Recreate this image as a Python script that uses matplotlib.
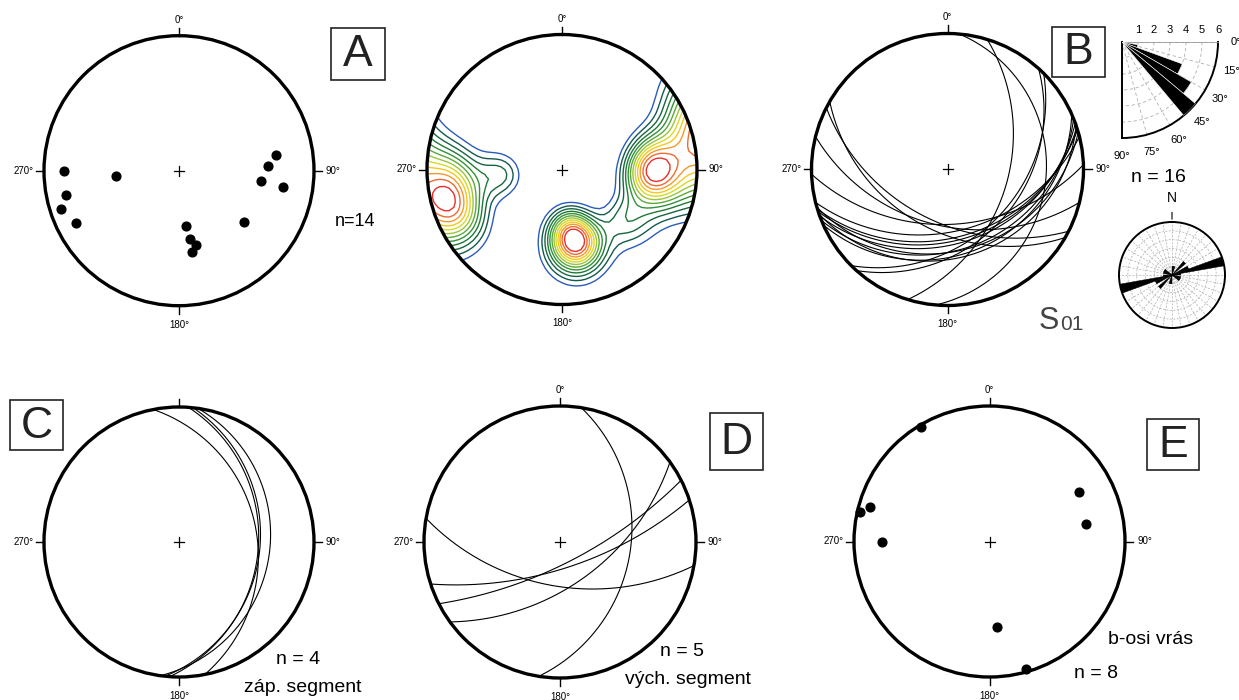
import numpy as np
import matplotlib
matplotlib.use("Agg")
import matplotlib.pyplot as plt
from matplotlib.patches import Circle, Rectangle

plt.rcParams['font.family'] = ['Liberation Sans', 'DejaVu Sans']

W, H = 1239, 700

# ---------------- data ----------------
# A: poles (trend, plunge)
A_trend = [270, 265, 258, 252, 243, 81, 87, 97, 99, 128, 173, 171, 167, 171]
A_plunge = [9, 40, 9, 5, 9, 18, 23, 27, 14, 27, 45, 36, 31, 27]

# B: S01 planes (dip direction, dip)
B_dipdir = [166, 163, 162, 160, 158, 164, 156, 161, 95, 107, 132, 135, 194, 210, 207, 178]
B_dip = [41, 37, 35, 33, 29, 28, 26, 24, 18, 42, 33, 36, 45, 42, 48, 46]

# C: western segment planes
C_dipdir = [79, 94, 96, 98]
C_dip = [30, 29, 28, 22]

# D: eastern segment planes
D_dipdir = [99, 190, 162, 153, 144]
D_dip = [35, 54, 68, 72, 55]

# E: fold axes (trend, plunge)
E_trend = [329, 283, 286, 270, 61, 80, 175, 164]
E_plunge = [1, 1, 5, 13, 16, 18, 25, 1]

contour_colors = ['#2b5cb8', '#14594f', '#166640', '#1f7a36', '#33913a', '#5aa83a',
                  '#9cc43a', '#d6da22', '#f5c81c', '#f59a2a', '#ef6a2e', '#e8302a']

fig = plt.figure(figsize=(W / 100, H / 100), dpi=100)
ov = fig.add_axes([0, 0, 1, 1])
ov.set_xlim(0, W)
ov.set_ylim(H, 0)
ov.axis('off')


def vec(trend, plunge):
    t = np.deg2rad(trend)
    p = np.deg2rad(plunge)
    return np.array([np.sin(t) * np.cos(p), np.cos(t) * np.cos(p), -np.sin(p)])


def proj(v):
    e, n, u = v
    s = np.where(u > 0, -1.0, 1.0)
    e, n, u = e * s, n * s, u * s
    return e / (1 - u), n / (1 - u)


def great_circle(dd, dip, num=241):
    st = np.deg2rad(dd - 90)
    d = np.deg2rad(dd)
    di = np.deg2rad(dip)
    t = np.linspace(0, np.pi, num)
    s_vec = np.array([np.sin(st), np.cos(st), 0.0])
    d_vec = np.array([np.sin(d) * np.cos(di), np.cos(d) * np.cos(di), -np.sin(di)])
    v = np.outer(np.cos(t), s_vec) + np.outer(np.sin(t), d_vec)
    return proj(v.T)


def make_net(cx, cy, r, top_label=True):
    pad = 1.3
    ax = fig.add_axes([(cx - r * pad) / W, 1 - (cy + r * pad) / H, 2 * r * pad / W, 2 * r * pad / H])
    ax.set_xlim(-pad, pad)
    ax.set_ylim(-pad, pad)
    ax.set_aspect('equal')
    ax.axis('off')
    prim = Circle((0, 0), 1, fill=False, ec='k', lw=2.4, zorder=10)
    ax.add_patch(prim)
    tl = 8 / r
    for a in (0, 90, 180, 270):
        ra = np.deg2rad(a)
        ax.plot([np.sin(ra), (1 + tl) * np.sin(ra)], [np.cos(ra), (1 + tl) * np.cos(ra)],
                color='k', lw=1.0)
    c = 5 / r
    ax.plot([-c, c], [0, 0], color='k', lw=0.9)
    ax.plot([0, 0], [-c, c], color='k', lw=0.9)
    fs = 7
    if top_label:
        ax.text(0, 1 + 16 / r, '0°', ha='center', va='center', fontsize=fs)
    ax.text(1 + 12 / r, 0, '90°', ha='left', va='center', fontsize=fs)
    ax.text(0, -1 - 19 / r, '180°', ha='center', va='center', fontsize=fs)
    ax.text(-1 - 10 / r, 0, '270°', ha='right', va='center', fontsize=fs)
    return ax, prim


def plot_points(ax, trends, plunges):
    for t, p in zip(trends, plunges):
        x, y = proj(vec(t, p))
        ax.plot(x, y, 'o', color='k', ms=6.3, zorder=12)


def plot_planes(ax, prim, dds, dips):
    for dd, dp in zip(dds, dips):
        x, y = great_circle(dd, dp)
        ln, = ax.plot(x, y, color='k', lw=0.8)
        ln.set_clip_path(prim)


# ---- A: poles
axA, pA = make_net(179, 170.7, 135)
plot_points(axA, A_trend, A_plunge)

# ---- contour of A (axial density on the sphere)
axK, pK = make_net(562, 169.5, 135)
g = np.linspace(-1.08, 1.08, 63)
X, Y = np.meshgrid(g, g)
R = np.hypot(X, Y)
plg = 90 - 2 * np.degrees(np.arctan(R))
trd = np.degrees(np.arctan2(X, Y))
G = vec(trd, plg)
P = np.array([vec(t, p) for t, p in zip(A_trend, A_plunge)])
dots = np.abs(np.tensordot(P, G, axes=([1], [0])))
kappa = 24.0
dens = np.exp(kappa * (dots - 1)).sum(axis=0)
inside = R < 0.97
peak_w = dens[inside & (X < -0.3)].max()
peak_e = dens[inside & (X > 0.35) & (R < 0.85)].max()
peak_s = dens[inside & (Y < -0.25) & (np.abs(X) < 0.35)].max()
top = 0.94 * min(peak_w, peak_e, peak_s)
low = 0.14 * max(peak_w, peak_e, peak_s)
levels = np.linspace(low, top, 12)
cs = axK.contour(X, Y, dens, levels=levels, colors=contour_colors, linewidths=1.0)
cs.set_clip_path(pK)

# ---- B: planes
axB, pB = make_net(947.5, 169.5, 136)
plot_planes(axB, pB, B_dipdir, B_dip)

# ---- C
axC, pC = make_net(179, 542, 135, top_label=False)
plot_planes(axC, pC, C_dipdir, C_dip)

# ---- D
axD, pD = make_net(560, 542, 136)
plot_planes(axD, pD, D_dipdir, D_dip)

# ---- E
axE, pE = make_net(989.5, 541.5, 135.5)
plot_points(axE, E_trend, E_plunge)

# ---- quarter rose of dips
rq = 96
rax = fig.add_axes([1122 / W, 1 - (42 + rq) / H, rq / W, rq / H], projection='polar')
rax.set_theta_zero_location('E')
rax.set_theta_direction(-1)
rax.set_thetamin(0)
rax.set_thetamax(90)
dip_bins = np.arange(0, 91, 10)
dip_counts, _ = np.histogram(B_dip, dip_bins)
rmax_q = 6
rax.set_axisbelow(True)
rax.bar(np.deg2rad(dip_bins[:-1]), dip_counts, width=np.deg2rad(10), align='edge',
        color='k', edgecolor='white', linewidth=0.4, zorder=3)
rax.set_ylim(0, rmax_q)
rax.set_rgrids(np.arange(1, rmax_q + 1), labels=[''] * rmax_q)
rax.set_thetagrids(np.arange(0, 91, 15), labels=[''] * 7)
rax.grid(True, color='#b0b0b0', ls=(0, (4, 3)), lw=0.6)
rax.spines['polar'].set_linewidth(1.4)
rax.spines['end'].set_linewidth(1.4)
rax.spines['start'].set_linewidth(0.6)
rax.spines['start'].set_color('#999999')
rax.spines['inner'].set_visible(False)
for k in range(1, rmax_q + 1):
    rax.annotate(str(k), (0, k), xytext=(0, 5), textcoords='offset points',
                 ha='center', va='bottom', fontsize=8, annotation_clip=False)
for a in range(0, 91, 15):
    rax.annotate(f'{a}°', (np.deg2rad(a), 7.1), ha='center', va='center', fontsize=8,
                 annotation_clip=False)

# ---- full rose of strikes
rf = 53
fax = fig.add_axes([(1172 - rf) / W, 1 - (275 + rf) / H, 2 * rf / W, 2 * rf / H], projection='polar')
fax.set_theta_zero_location('N')
fax.set_theta_direction(-1)
strikes = (np.array(B_dipdir) - 90) % 180
sb = np.arange(0, 181, 10)
sc, _ = np.histogram(strikes, sb)
th = np.deg2rad(np.concatenate([sb[:-1], sb[:-1] + 180]))
fax.set_axisbelow(True)
fax.bar(th, np.concatenate([sc, sc]), width=np.deg2rad(10), align='edge', color='k',
        edgecolor='k', linewidth=0.3, zorder=3)
fax.set_ylim(0, sc.max())
fax.set_rgrids(np.arange(1, sc.max() + 1), labels=[''] * sc.max())
fax.set_thetagrids(np.arange(0, 360, 10), labels=[''] * 36)
fax.grid(True, color='#b0b0b0', ls=(0, (3, 2)), lw=0.5)
fax.spines['polar'].set_linewidth(1.4)
fax.annotate('N', (0, sc.max()), xytext=(0, 12), textcoords='offset points', ha='center',
             va='bottom', fontsize=10, annotation_clip=False)
fax.annotate('', (0, sc.max()), xytext=(0, 9), textcoords='offset points',
             arrowprops=dict(arrowstyle='-', color='k', lw=0.8), annotation_clip=False)

# ---- panel letters
for (x0, y0, x1, y1, s) in [(331, 28, 385, 80, 'A'), (1052, 27, 1105, 77, 'B'),
                            (10, 400, 63, 450, 'C'), (710, 413, 763, 470, 'D'),
                            (1147, 419, 1199, 470, 'E')]:
    ov.add_patch(Rectangle((x0, y0), x1 - x0, y1 - y0, fill=False, ec='#222222', lw=1.2))
    ov.text((x0 + x1) / 2, (y0 + y1) / 2 + 1, s, ha='center', va='center', fontsize=32,
            color='#222222')

# ---- annotations
ov.text(355, 222, 'n=14', ha='center', va='center', fontsize=13)
ov.text(1158, 178, 'n = 16', ha='center', va='center', fontsize=14)
ov.text(1049, 321, 'S', ha='center', va='center', fontsize=22, color='#444444')
ov.text(1060, 325, '01', ha='left', va='center', fontsize=15, color='#444444')
ov.text(298, 659, 'n = 4', ha='center', va='center', fontsize=14)
ov.text(303, 688, 'záp. segment', ha='center', va='center', fontsize=14)
ov.text(682, 652, 'n = 5', ha='center', va='center', fontsize=14)
ov.text(688, 680, 'vých. segment', ha='center', va='center', fontsize=14)
ov.text(1151, 640, 'b-osi vrás', ha='center', va='center', fontsize=14)
ov.text(1096, 673, 'n = 8', ha='center', va='center', fontsize=14)

fig.savefig('out.png', dpi=100)
